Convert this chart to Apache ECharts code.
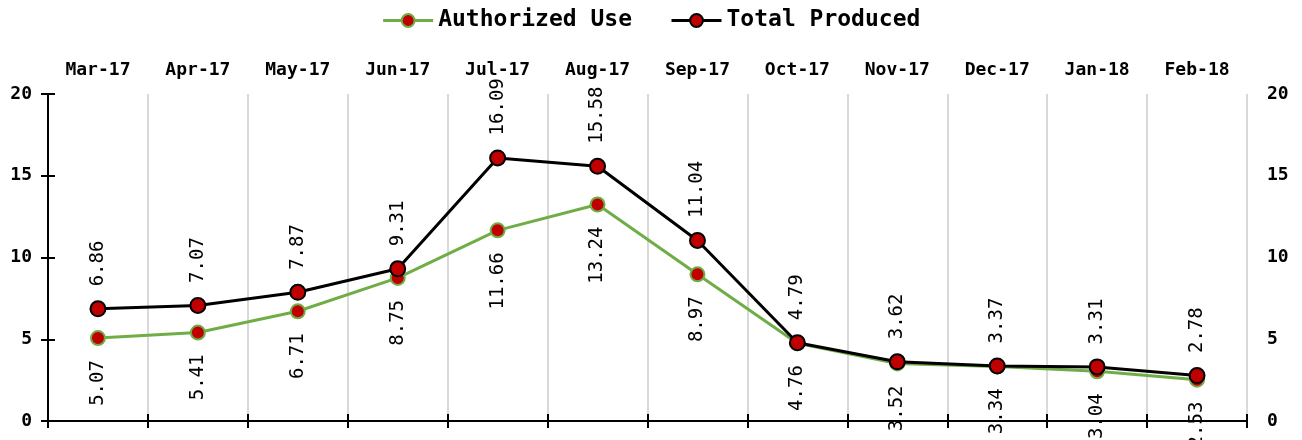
<!DOCTYPE html>
<html>
<head>
<meta charset="utf-8">
<script src="https://cdn.jsdelivr.net/npm/echarts@6/dist/echarts.min.js"></script>
<style>
  html, body { margin: 0; padding: 0; background: #fff; }
  #main { width: 1302px; height: 440px; }
</style>
</head>
<body>
<div id="main"></div>
<script>
var months = ['Mar-17', 'Apr-17', 'May-17', 'Jun-17', 'Jul-17', 'Aug-17', 'Sep-17', 'Oct-17', 'Nov-17', 'Dec-17', 'Jan-18', 'Feb-18'];
var authorizedUse = [5.07, 5.41, 6.71, 8.75, 11.66, 13.24, 8.97, 4.76, 3.52, 3.34, 3.04, 2.53];
var totalProduced = [6.86, 7.07, 7.87, 9.31, 16.09, 15.58, 11.04, 4.79, 3.62, 3.37, 3.31, 2.78];

var mono = 'DejaVu Sans Mono';
var myChart = echarts.init(document.getElementById('main'));

// 数据标签（竖排）
function valueLabel(pos) {
  return {
    show: true,
    position: pos,
    distance: 14,
    rotate: 90,
    align: pos === 'top' ? 'left' : 'right',
    verticalAlign: 'middle',
    fontFamily: mono, fontWeight: 'normal', fontSize: 19, color: '#000',
    formatter: function (p) { return p.value.toFixed(2); }
  };
}

var option = {
  animation: false,
  textStyle: { fontFamily: mono, fontWeight: 'bold', color: '#000' },
  legend: {
    top: 4,
    left: 'center',
    itemWidth: 50,
    itemHeight: 16,
    itemGap: 38,
    textStyle: { fontFamily: mono, fontWeight: 'bold', fontSize: 23, color: '#000' },
    data: [
      { name: 'Authorized Use', lineStyle: { width: 3 } },
      { name: 'Total Produced', lineStyle: { width: 3 } }
    ]
  },
  grid: { left: 48, right: 55, top: 94, bottom: 19, containLabel: false },
  xAxis: [
    {
      type: 'category',
      position: 'top',
      data: months,
      axisLine: { show: false },
      axisTick: { show: false },
      axisLabel: { fontFamily: mono, fontWeight: 'bold', fontSize: 18, color: '#000', margin: 15 },
      splitLine: { show: true, lineStyle: { color: '#d9d9d9', width: 2 } }
    },
    {
      type: 'category',
      position: 'bottom',
      data: months,
      axisLine: { show: true, lineStyle: { color: '#000', width: 2 } },
      axisTick: { show: true, length: 7, lineStyle: { color: '#000', width: 2 } },
      axisLabel: { show: false },
      splitLine: { show: false }
    },
    {
      type: 'category',
      position: 'bottom',
      offset: 0,
      data: months,
      axisLine: { show: false },
      axisTick: { show: true, inside: true, length: 7, lineStyle: { color: '#000', width: 2 } },
      axisLabel: { show: false },
      splitLine: { show: false }
    }
  ],
  yAxis: [
    {
      type: 'value',
      position: 'left',
      min: 0, max: 20, interval: 5,
      axisLine: { show: true, lineStyle: { color: '#000', width: 2 } },
      axisTick: { show: true, length: 7, lineStyle: { color: '#000', width: 2 } },
      axisLabel: { fontFamily: mono, fontWeight: 'bold', fontSize: 18, color: '#000', margin: 16 },
      splitLine: { show: false }
    },
    {
      type: 'value',
      position: 'right',
      min: 0, max: 20, interval: 5,
      axisLine: { show: false },
      axisTick: { show: false },
      axisLabel: { fontFamily: mono, fontWeight: 'bold', fontSize: 18, color: '#000', margin: 20 },
      splitLine: { show: false }
    },
    {
      type: 'value',
      position: 'left',
      offset: 0,
      min: 0, max: 20, interval: 5,
      axisLine: { show: false },
      axisTick: { show: true, inside: true, length: 7, lineStyle: { color: '#000', width: 2 } },
      axisLabel: { show: false },
      splitLine: { show: false }
    }
  ],
  series: [
    {
      name: 'Authorized Use',
      type: 'line',
      data: authorizedUse,
      symbol: 'circle',
      symbolSize: 14,
      lineStyle: { color: '#70ad47', width: 3 },
      itemStyle: { color: '#c00000', borderColor: '#70ad47', borderWidth: 2 },
      label: valueLabel('bottom'),
      z: 2
    },
    {
      name: 'Total Produced',
      type: 'line',
      data: totalProduced,
      symbol: 'circle',
      symbolSize: 15,
      lineStyle: { color: '#000', width: 3 },
      itemStyle: { color: '#c00000', borderColor: '#000', borderWidth: 2 },
      label: valueLabel('top'),
      z: 3
    }
  ]
};

myChart.setOption(option);
</script>
</body>
</html>
